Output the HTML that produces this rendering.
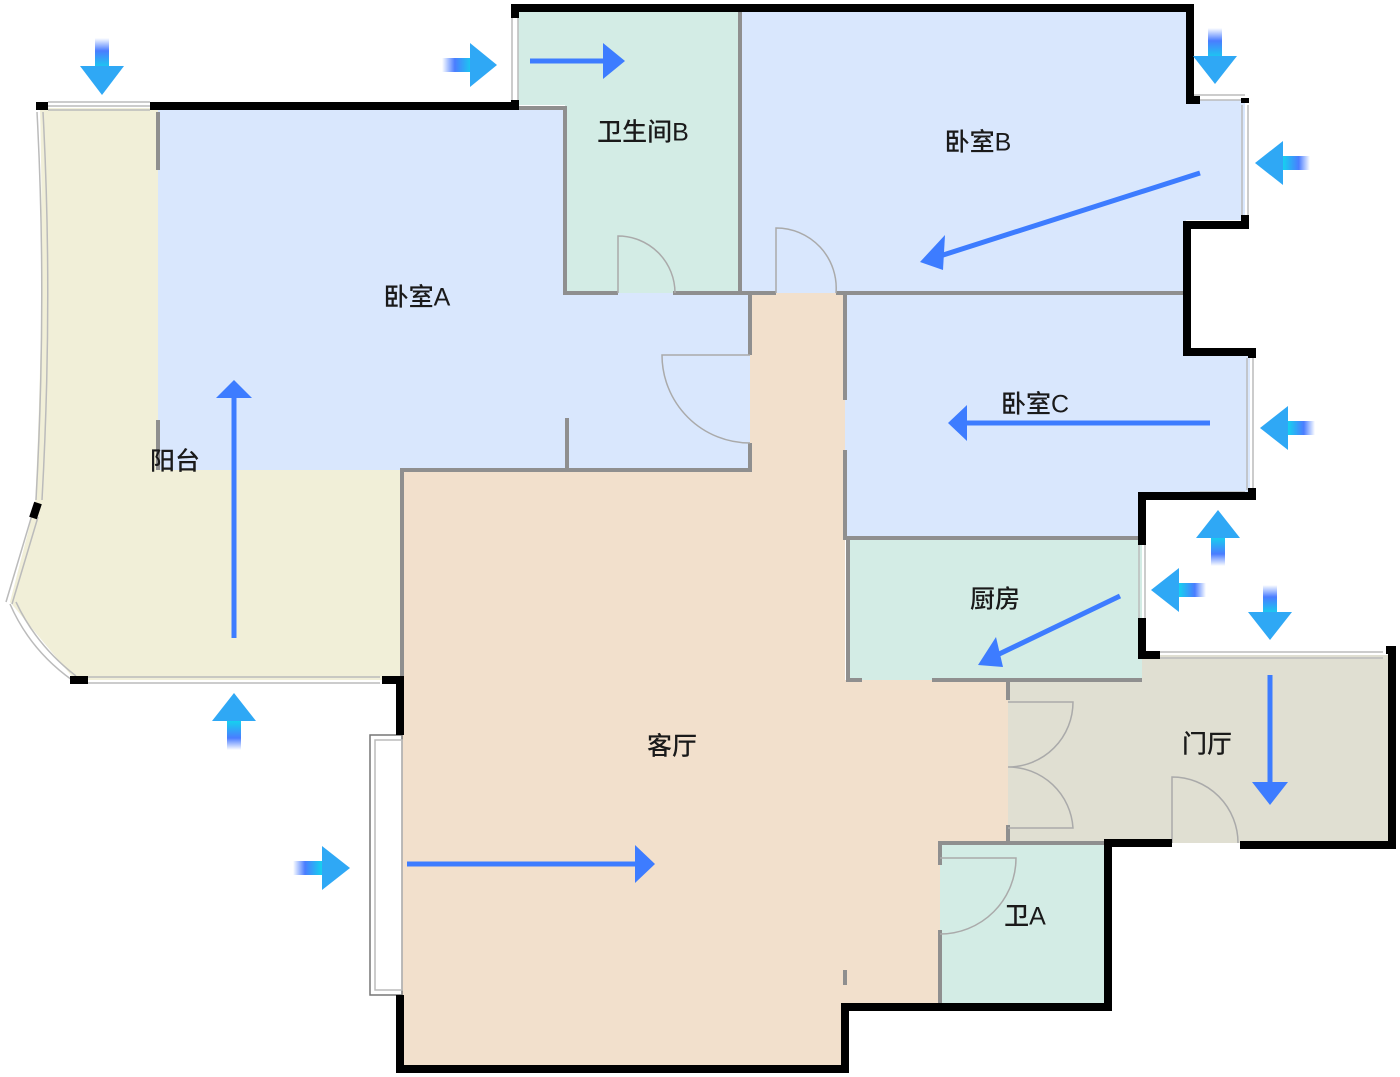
<!DOCTYPE html>
<html><head><meta charset="utf-8"><style>
html,body{margin:0;padding:0;background:#fff;}
svg{display:block}
text{font-family:"Liberation Sans","Noto Sans CJK SC",sans-serif;font-size:25px;font-weight:500;fill:#1a1a1a;text-anchor:middle;dominant-baseline:middle}
</style></head><body>
<svg width="1400" height="1077" viewBox="0 0 1400 1077" xmlns="http://www.w3.org/2000/svg">
<defs>
<linearGradient id="gd" x1="0" y1="0" x2="0" y2="1"><stop offset="0" stop-color="#4a7dff" stop-opacity="0"/><stop offset="0.4" stop-color="#4a7dff"/><stop offset="1" stop-color="#12d6ee"/></linearGradient>
<linearGradient id="gu" x1="0" y1="1" x2="0" y2="0"><stop offset="0" stop-color="#4a7dff" stop-opacity="0"/><stop offset="0.4" stop-color="#4a7dff"/><stop offset="1" stop-color="#12d6ee"/></linearGradient>
<linearGradient id="gr" x1="0" y1="0" x2="1" y2="0"><stop offset="0" stop-color="#4a7dff" stop-opacity="0"/><stop offset="0.4" stop-color="#4a7dff"/><stop offset="1" stop-color="#12d6ee"/></linearGradient>
<linearGradient id="gl" x1="1" y1="0" x2="0" y2="0"><stop offset="0" stop-color="#4a7dff" stop-opacity="0"/><stop offset="0.4" stop-color="#4a7dff"/><stop offset="1" stop-color="#12d6ee"/></linearGradient>
</defs>
<path d="M40,108 L158,108 L158,470 L402,470 L402,680 L75,680 L10,602 L35,505 Q45,300 40,108Z" fill="#f1efd8"/>
<path d="M158,108 L565,108 L565,293 L750,293 L750,470 L158,470Z" fill="#d9e7fd"/>
<path d="M518,12 L740,12 L740,293 L565,293 L565,105 L518,105Z" fill="#d3ece5"/>
<path d="M740,12 L1186,12 L1186,100 L1245,100 L1245,220 L1186,220 L1186,293 L740,293Z" fill="#d9e7fd"/>
<path d="M845,293 L1186,293 L1186,352 L1250,352 L1250,493 L1142,493 L1142,538 L845,538Z" fill="#d9e7fd"/>
<path d="M848,538 L1142,538 L1142,680 L848,680Z" fill="#d3ece5"/>
<path d="M1008,680 L1142,680 L1142,655 L1388,655 L1388,843 L1008,843Z" fill="#e0dfd2"/>
<path d="M402,470 L750,470 L750,293 L845,293 L845,680 L1008,680 L1008,843 L940,843 L940,1003 L845,1003 L845,1065 L402,1065Z" fill="#f2e0cc"/>
<path d="M940,843 L1108,843 L1108,1003 L940,1003Z" fill="#d3ece5"/>
<g stroke="#8f8f8f" stroke-width="4" fill="none">
<path d="M515,108 L565,108 L565,293 L618,293 M673,293 L776,293 M836,293 L1186,293"/>
<path d="M740,12 L740,293"/>
<path d="M750,293 L750,355 M750,443 L750,470 L402,470 L402,680"/>
<path d="M567,418 L567,470"/>
<path d="M158,112 L158,170 M158,420 L158,470"/>
<path d="M845,293 L845,400 M845,450 L845,538 L1142,538 M848,538 L848,680 L862,680 M932,680 L1142,680"/>
<path d="M1008,680 L1008,700 M1008,825 L1008,843 L940,843 L940,865 M940,930 L940,1003 M1008,843 L1108,843"/>
<path d="M845,970 L845,985"/>
</g>
<g stroke="#aaa" stroke-width="1.5" fill="none">
<path d="M618,293 L618,236 A57,57 0 0 1 675,293"/>
<path d="M776,293 L776,228 A60,60 0 0 1 836,293"/>
<path d="M750,355 L662,355 A88,88 0 0 0 750,443"/>
<path d="M1008,702 L1073,702 A65,65 0 0 1 1008,767 A65,65 0 0 1 1073,828 L1008,828"/>
<path d="M1172,843 L1172,777 A66,66 0 0 1 1238,843"/>
<path d="M940,858 L1016,858 A76,76 0 0 1 940,934"/>
</g>
<g stroke="#bbb" stroke-width="1.5" fill="none">
<path d="M48,102 L150,102 M48,106 L150,106 M48,110 L150,110"/>
<path d="M512,18 L512,100 M518,18 L518,100"/>
<path d="M1190,95 L1245,95 M1190,100 L1245,100"/>
<path d="M1242,105 L1242,215 M1248,105 L1248,215"/>
<path d="M1247,358 L1247,490 M1253,358 L1253,490"/>
<path d="M1190,492 L1245,492 M1190,498 L1245,498"/>
<path d="M1139,545 L1139,618 M1145,545 L1145,618"/>
<path d="M1160,652 L1383,652 M1160,658 L1383,658"/>
<path d="M80,677 L380,677 M80,683 L380,683"/>
<path d="M37,112 Q47,300 36,500 M43,112 Q53,300 42,500"/>
<path d="M32,515 L6,602 M38,517 L12,604 M10,604 Q30,650 72,680 M16,602 Q36,645 76,676"/>
<rect x="370" y="735" width="32" height="260" stroke="#777"/>
<rect x="375" y="740" width="27" height="250"/>
</g>
<g stroke="#000" stroke-width="8" fill="none" stroke-linejoin="miter">
<path d="M515,18 L515,8 L1190,8 L1190,100 L1200,100"/>
<path d="M515,100 L515,106 L150,106"/>
<path d="M36,106 L48,106"/>
<path d="M1245,98 L1245,103"/>
<path d="M1245,215 L1245,225 L1187,225 L1187,352 L1252,352 L1252,358"/>
<path d="M1252,488 L1252,496 L1190,496 M1195,496 L1142,496 L1142,545"/>
<path d="M1142,618 L1142,655 L1160,655"/>
<path d="M1386,650 L1392,650 L1392,845 L1240,845"/>
<path d="M1172,843 L1108,843 L1108,1007 L845,1007 L845,1069 L400,1069 L400,995"/>
<path d="M400,735 L400,680 L382,680"/>
<path d="M70,680 L88,680"/>
<path d="M38,503 L33,518"/>
</g>
<g>
<rect x="95" y="38" width="14" height="32" fill="url(#gd)"/><polygon points="80,66 124,66 102,95" fill="#2fa8f5"/>
<rect x="442" y="58" width="32" height="14" fill="url(#gr)"/><polygon points="470,43 470,87 497,65" fill="#2fa8f5"/>
<rect x="1208" y="28" width="14" height="32" fill="url(#gd)"/><polygon points="1193,56 1237,56 1215,84" fill="#2fa8f5"/>
<rect x="1282" y="156" width="28" height="14" fill="url(#gl)"/><polygon points="1283,141 1283,185 1255,163" fill="#2fa8f5"/>
<rect x="1287" y="421" width="28" height="14" fill="url(#gl)"/><polygon points="1288,406 1288,450 1260,428" fill="#2fa8f5"/>
<rect x="1211" y="536" width="14" height="30" fill="url(#gu)"/><polygon points="1196,538 1240,538 1218,510" fill="#2fa8f5"/>
<rect x="1178" y="583" width="28" height="14" fill="url(#gl)"/><polygon points="1179,568 1179,612 1151,590" fill="#2fa8f5"/>
<rect x="1263" y="585" width="14" height="30" fill="url(#gd)"/><polygon points="1248,612 1292,612 1270,640" fill="#2fa8f5"/>
<rect x="227" y="720" width="14" height="30" fill="url(#gu)"/><polygon points="212,721 256,721 234,693" fill="#2fa8f5"/>
<rect x="293" y="861" width="30" height="14" fill="url(#gr)"/><polygon points="322,846 322,890 350,868" fill="#2fa8f5"/>
</g>
<g stroke="#3d7cff" stroke-width="5" fill="#3d7cff">
<line x1="530" y1="61" x2="605" y2="61"/><polygon stroke="none" points="603,43 603,79 625,61"/>
<line x1="1200" y1="173" x2="940" y2="256"/><polygon stroke="none" points="920,262 945,235 943,270"/>
<line x1="1210" y1="423" x2="965" y2="423"/><polygon stroke="none" points="948,423 967,405 967,441"/>
<line x1="1120" y1="596" x2="995" y2="656"/><polygon stroke="none" points="978,665 996,637 1003,667"/>
<line x1="234" y1="638" x2="234" y2="398"/><polygon stroke="none" points="216,398 252,398 234,380"/>
<line x1="1270" y1="675" x2="1270" y2="785"/><polygon stroke="none" points="1252,782 1288,782 1270,805"/>
<line x1="407" y1="864" x2="635" y2="864"/><polygon stroke="none" points="635,845 635,883 655,864"/>
</g>
<text x="643" y="134">卫生间B</text>
<text x="978" y="144">卧室B</text>
<text x="417" y="299">卧室A</text>
<text x="1035" y="406">卧室C</text>
<text x="175" y="463">阳台</text>
<text x="995" y="601">厨房</text>
<text x="672" y="748">客厅</text>
<text x="1207" y="746">门厅</text>
<text x="1025" y="918">卫A</text>
</svg>
</body></html>
